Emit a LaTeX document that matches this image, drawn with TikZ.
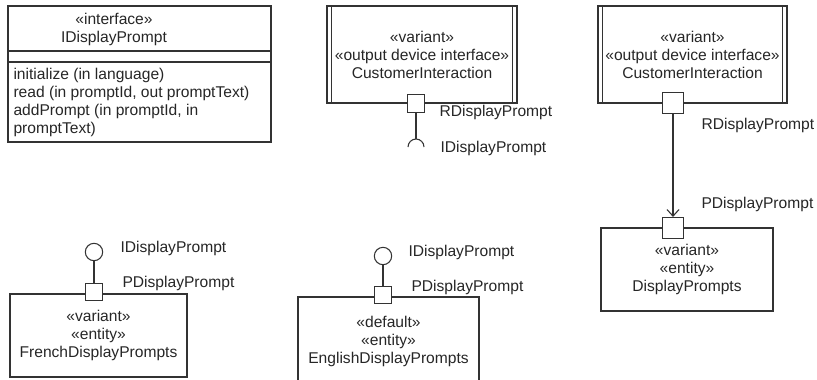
\documentclass[tikz,border=0pt]{standalone}
\usepackage{fontspec}
\setmainfont{Liberation Sans}
\usetikzlibrary{positioning, arrows.meta}

\begin{document}
\begin{tikzpicture}[x=0.75pt, y=-0.75pt, line width=0.8pt, draw=black!80, text=black!85,
  font=\fontsize{11.7}{13.5}\selectfont,
  comp/.style={draw, rectangle, align=center, inner sep=0pt, minimum height=62.25pt},
  port/.style={draw, rectangle, fill=white, inner sep=0pt, minimum size=13pt},
  lolly/.style={draw, circle, inner sep=0pt, minimum size=13pt},
  lbl/.style={anchor=west, inner sep=0pt}]
\useasboundingbox (0,0) rectangle (817,379);
% interface class
\node[draw, rectangle, minimum width=197.25pt, minimum height=102pt] (ifc) at (139.5,74) {};
\draw (ifc.west |- 0,51) -- (ifc.east |- 0,51);
\draw (ifc.west |- 0,62) -- (ifc.east |- 0,62);
\node[align=center, inner sep=0pt] (ifcname) at (114,29) {«interface»\\IDisplayPrompt};
\node[align=left, anchor=west, inner sep=0pt] (ifcops) at (13,102) {initialize (in language)\\read (in promptId, out promptText)\\addPrompt (in promptId, in\\promptText)};
% required interface
\node[comp, minimum width=142.5pt, minimum height=72.75pt] (ci) at (422,54.5) {«variant»\\«output device interface»\\CustomerInteraction};
\draw ([xshift=3.75pt]ci.north west) -- ([xshift=3.75pt]ci.south west);
\draw ([xshift=-3.75pt]ci.north east) -- ([xshift=-3.75pt]ci.south east);
\node[port] (rp) at (416,103.5) {};
\coordinate (sock) at (416,139);
\draw (rp.south) -- (sock);
\draw ([shift={(-6pt,-6pt)}]sock) arc[start angle=180, end angle=0, radius=6pt];
\node[lbl] (rpl) at (439,112) {RDisplayPrompt};
\node[lbl] (sockl) at (440,148) {IDisplayPrompt};
% connected components
\node[comp, minimum width=141.75pt, minimum height=72.75pt] (ci2) at (692.5,54.5) {«variant»\\«output device interface»\\CustomerInteraction};
\draw ([xshift=3.75pt]ci2.north west) -- ([xshift=3.75pt]ci2.south west);
\draw ([xshift=-3.75pt]ci2.north east) -- ([xshift=-3.75pt]ci2.south east);
\node[port, minimum size=15.75pt] (rp2) at (673,103) {};
\node[comp, minimum width=129pt] (dp) at (687,269.5) {«variant»\\«entity»\\DisplayPrompts};
\node[port, minimum size=15.75pt] (pp2) at (673,228) {};
\draw[-{Straight Barb[length=5pt, width=9pt]}] (rp2.south) -- (pp2.north);
\node[lbl] (rpl2) at (701,125) {RDisplayPrompt};
\node[lbl] (ppl2) at (701,204) {PDisplayPrompt};
% provided interfaces
\node[comp, minimum width=132.75pt] (fr) at (98.5,335.5) {«variant»\\«entity»\\FrenchDisplayPrompts};
\node[port] (frp) at (94,292) {};
\node[lolly] (frl) at (94,252) {};
\draw (frl.south) -- (frp.north);
\node[lbl] (frll) at (120,248) {IDisplayPrompt};
\node[lbl] (frpl) at (122,283) {PDisplayPrompt};
\node[comp, minimum width=135.75pt, minimum height=66pt] (en) at (388.5,341) {«default»\\«entity»\\EnglishDisplayPrompts};
\node[port] (enp) at (383,295) {};
\node[lolly] (enl) at (383,256) {};
\draw (enl.south) -- (enp.north);
\node[lbl] (enll) at (408,252) {IDisplayPrompt};
\node[lbl] (enpl) at (411,287) {PDisplayPrompt};
\end{tikzpicture}
\end{document}
